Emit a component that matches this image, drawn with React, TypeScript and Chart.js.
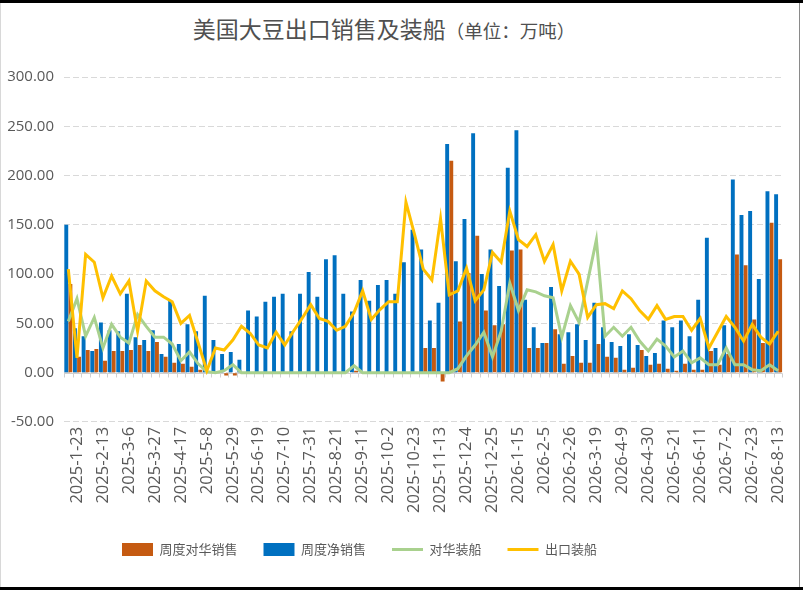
import { useEffect, useRef } from "react";
import { Chart, registerables } from "chart.js";

Chart.register(...registerables);

// weekly report dates (every 3rd one is labelled on the axis)
const weeks = [
  "2025-1-16", "2025-1-23", "2025-1-30", "2025-2-6", "2025-2-13", "2025-2-20", "2025-2-27",
  "2025-3-6", "2025-3-13", "2025-3-20", "2025-3-27", "2025-4-3", "2025-4-10", "2025-4-17",
  "2025-4-24", "2025-5-1", "2025-5-8", "2025-5-15", "2025-5-22", "2025-5-29", "2025-6-5",
  "2025-6-12", "2025-6-19", "2025-6-26", "2025-7-3", "2025-7-10", "2025-7-17", "2025-7-24",
  "2025-7-31", "2025-8-7", "2025-8-14", "2025-8-21", "2025-8-28", "2025-9-4", "2025-9-11",
  "2025-9-18", "2025-9-25", "2025-10-2", "2025-10-9", "2025-10-16", "2025-10-23", "2025-10-30",
  "2025-11-6", "2025-11-13", "2025-11-20", "2025-11-27", "2025-12-4", "2025-12-11", "2025-12-18",
  "2025-12-25", "2026-1-1", "2026-1-8", "2026-1-15", "2026-1-22", "2026-1-29", "2026-2-5",
  "2026-2-12", "2026-2-19", "2026-2-26", "2026-3-5", "2026-3-12", "2026-3-19", "2026-3-26",
  "2026-4-2", "2026-4-9", "2026-4-16", "2026-4-23", "2026-4-30", "2026-5-7", "2026-5-14",
  "2026-5-21", "2026-5-28", "2026-6-4", "2026-6-11", "2026-6-18", "2026-6-25", "2026-7-2",
  "2026-7-9", "2026-7-16", "2026-7-23", "2026-7-30", "2026-8-6", "2026-8-13",
];

// 周度净销售
const netSales = [
  150, 45, 37, 22, 51, 43, 42, 80, 36, 33, 43, 19, 73, 29, 49, 42, 78, 33, 19, 21, 13,
  63, 57, 72, 77, 80, 42, 80, 102, 77, 115, 119, 80, 62, 94, 73, 89, 94, 80, 112, 145,
  125, 53, 71, 232, 113, 156, 243, 100, 125, 88, 208, 246, 74, 46, 30, 87, 39, 41, 49,
  33, 71, 46, 31, 27, 39, 28, 17, 20, 53, 46, 53, 37, 74, 137, 25, 48, 196, 160, 164,
  95, 184, 181,
];

// 周度对华销售
const chinaSales = [
  90, 16, 23, 24, 12, 22, 22, 23, 28, 22, 31, 16, 10, 9, 6, 3, 0, 0, -3, -3, 0,
  0, 0, 0, 0, 0, 0, 0, 0, 0, 0, 0, 0, 2, 0, 0, 0, 0, 0, 0, 0,
  25, 25, -9, 215, 52, 101, 139, 63, 48, 49, 124, 125, 25, 25, 30, 44, 9, 17, 10,
  10, 29, 16, 15, 3, 5, 23, 8, 9, 4, 2, 9, 3, 3, 22, 8, 19, 120, 109, 54,
  30, 152, 115,
];

// 对华装船
const chinaShipped = [
  52, 75, 37, 56, 25, 49, 36, 30, 59, 47, 36, 36, 29, 12, 21, 9, 1, 0, 2, 8, 0,
  0, 0, 0, 0, 0, 0, 0, 0, 0, 0, 0, 0, 7, 0, 0, 0, 0, 0, 0, 0,
  0, 0, 0, 0, 4, 17, 28, 41, 16, 42, 91, 63, 84, 82, 78, 76, 36, 68, 51,
  93, 135, 37, 46, 37, 46, 32, 22, 34, 27, 16, 22, 10, 15, 8, 8, 25, 8, 8, 3,
  2, 8, 2,
];

// 出口装船
const exportShipped = [
  105, 15, 120, 112, 76, 98, 80, 93, 42, 93, 83, 77, 72, 50, 58, 30, 2, 25, 23, 33, 47,
  40, 28, 25, 41, 28, 42, 55, 69, 55, 52, 43, 47, 61, 83, 54, 64, 72, 72, 173, 140,
  105, 94, 156, 79, 83, 106, 73, 84, 122, 112, 164, 135, 128, 140, 113, 130, 83, 113, 100,
  56, 69, 70, 65, 83, 75, 63, 54, 68, 54, 57, 57, 43, 55, 25, 41, 57, 46, 32, 49,
  36, 29, 42,
];

const legendOrder = [1, 0, 2, 3];
const font = "'Open Sans', 'Noto Sans CJK SC', sans-serif";
const cjkFont = "'Noto Sans CJK SC', sans-serif";
const textColor = "#595959";

// zero axis line with small category ticks
const zeroLine = {
  id: "zeroLine",
  beforeDatasetsDraw(chart: any) {
    const { ctx, chartArea, scales } = chart;
    const y0 = Math.round(scales.y.getPixelForValue(0)) + 0.5;
    const step = chartArea.width / weeks.length;
    ctx.save();
    ctx.strokeStyle = "#d0d0d0";
    ctx.lineWidth = 1;
    ctx.beginPath();
    ctx.moveTo(chartArea.left, y0);
    ctx.lineTo(chartArea.right, y0);
    for (let i = 0; i <= weeks.length; i++) {
      const px = Math.round(chartArea.left + i * step) + 0.5;
      ctx.moveTo(px, y0);
      ctx.lineTo(px, y0 + 4);
    }
    ctx.stroke();
    ctx.restore();
  },
};

// nudge the legend to where the original sits
const legendShift = {
  id: "legendShift",
  afterLayout(chart: any) {
    const lg = chart.legend;
    if (!lg) return;
    lg.left -= 39;
    lg.right -= 39;
    lg.top -= 1;
    lg.bottom -= 1;
  },
};

export default function App() {
  const chartRef = useRef<HTMLCanvasElement>(null);
  const chartInstanceRef = useRef<Chart | null>(null);

  useEffect(() => {
    if (!chartRef.current) return;
    if (chartInstanceRef.current) chartInstanceRef.current.destroy();
    const ctx = chartRef.current.getContext("2d");
    if (!ctx) return;

    chartInstanceRef.current = new Chart(ctx, {
      type: "bar",
      data: {
        labels: weeks,
        datasets: [
          {
            type: "bar",
            label: "周度净销售",
            data: netSales,
            backgroundColor: "#0070C0",
            barPercentage: 0.95,
            categoryPercentage: 0.95,
            order: 2,
          },
          {
            type: "bar",
            label: "周度对华销售",
            data: chinaSales,
            backgroundColor: "#C55A11",
            barPercentage: 0.95,
            categoryPercentage: 0.95,
            order: 2,
          },
          {
            type: "line",
            label: "对华装船",
            data: chinaShipped,
            borderColor: "#A9D18E",
            backgroundColor: "#A9D18E",
            borderWidth: 3,
            pointRadius: 0,
            tension: 0,
            order: 1,
          },
          {
            type: "line",
            label: "出口装船",
            data: exportShipped,
            borderColor: "#FFC000",
            backgroundColor: "#FFC000",
            borderWidth: 3,
            pointRadius: 0,
            tension: 0,
            order: 0,
          },
        ] as any,
      },
      options: {
        animation: false,
        responsive: false,
        maintainAspectRatio: false,
        layout: { padding: { top: 77, left: 0, right: 6, bottom: 23 } },
        scales: {
          x: {
            grid: { display: false, drawTicks: false },
            border: { display: false },
            ticks: {
              autoSkip: false,
              minRotation: 90,
              maxRotation: 90,
              padding: 5,
              color: textColor,
              font: { family: font, size: 16.5 },
              callback: (_v: any, i: number) => (i % 3 === 1 ? weeks[i] : ""),
            },
          },
          y: {
            min: -50,
            max: 300,
            afterFit: (scale: any) => {
              scale.width = 64;
            },
            grid: { color: "#d9d9d9", drawTicks: false },
            border: { display: false, dash: [6, 3] },
            ticks: {
              stepSize: 50,
              padding: 10,
              color: textColor,
              font: { family: font, size: 15 },
              callback: (v: any) => Number(v).toFixed(2),
            },
          },
        },
        plugins: {
          title: { display: false },
          tooltip: { enabled: false },
          legend: {
            position: "bottom",
            labels: {
              usePointStyle: true,
              pointStyleWidth: 31,
              boxHeight: 13,
              padding: 26,
              color: textColor,
              font: { family: cjkFont, size: 13 },
              sort: (a: any, b: any) => legendOrder[a.datasetIndex] - legendOrder[b.datasetIndex],
              generateLabels: (chart: any) =>
                chart.data.datasets.map((ds: any, i: number) => {
                  const isLine = ds.type === "line";
                  const c = isLine ? ds.borderColor : ds.backgroundColor;
                  return {
                    text: ds.label,
                    datasetIndex: i,
                    fillStyle: c,
                    strokeStyle: c,
                    fontColor: textColor,
                    lineWidth: isLine ? 3 : 0,
                    pointStyle: isLine ? "line" : "rect",
                    hidden: false,
                  };
                }),
            },
          },
        },
      },
      plugins: [zeroLine, legendShift],
    });

    return () => {
      if (chartInstanceRef.current) {
        chartInstanceRef.current.destroy();
        chartInstanceRef.current = null;
      }
    };
  }, []);

  return (
    <div style={{ position: "fixed", left: 0, top: 0, width: 803, height: 590, background: "#000" }}>
      <div
        style={{
          position: "absolute",
          left: 0,
          top: 3,
          width: 798,
          height: 584,
          background: "#fff",
          borderLeft: "1px solid #d8d8d8",
          borderRight: "1px solid #8a8a8a",
        }}
      />
      <div style={{ position: "absolute", left: 800, top: 3, width: 3, height: 584, background: "#fff" }} />
      <div
        style={{
          position: "absolute",
          left: 0,
          top: 12,
          width: 768,
          textAlign: "center",
          fontFamily: cjkFont,
          fontSize: 23,
          lineHeight: "32px",
          color: "#505050",
          whiteSpace: "nowrap",
        }}
      >
        美国大豆出口销售及装船<span style={{ fontSize: 18.5 }}>（单位：万吨）</span>
      </div>
      <canvas
        ref={chartRef}
        width={803}
        height={590}
        style={{ position: "absolute", left: 0, top: 0, width: 803, height: 590 }}
      />
    </div>
  );
}
